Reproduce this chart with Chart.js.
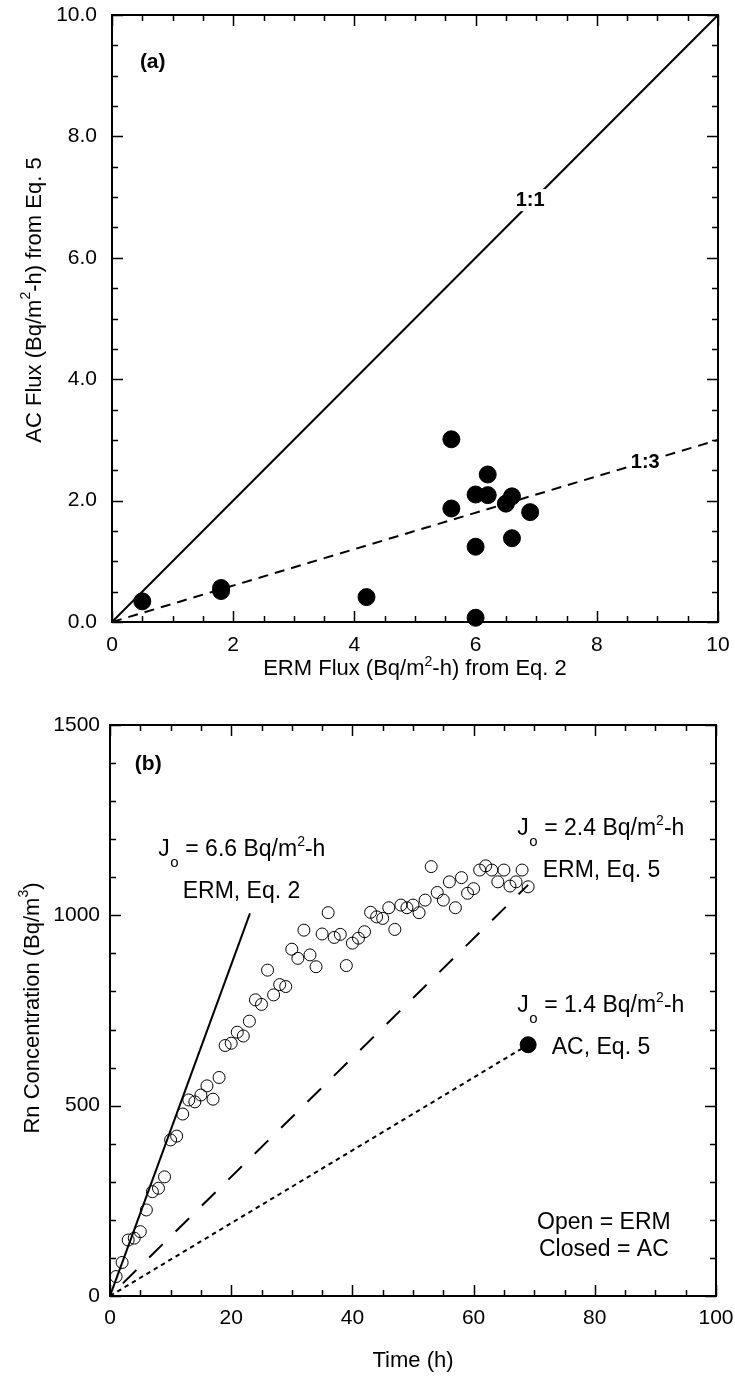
<!DOCTYPE html>
<html><head><meta charset="utf-8">
<script src="https://cdn.jsdelivr.net/npm/chart.js@4.4.0/dist/chart.umd.min.js"></script>
<style>
html,body{margin:0;padding:0;background:#fff;}
#wrap{position:relative;width:735px;height:1377px;overflow:hidden;}
canvas{position:absolute;left:0;}
</style></head><body>
<div id="wrap">
<canvas id="ca" width="735" height="690" style="top:0;width:735px;height:690px"></canvas>
<canvas id="cb" width="735" height="687" style="top:690px;width:735px;height:687px"></canvas>
</div>
<script>
const FONT = '"Liberation Sans", Arial, Helvetica, sans-serif';

// ---------- Panel (a) data ----------
const ermFlux = [0.5, 1.8, 1.8, 4.2, 5.6, 5.6, 6.0, 6.0, 6.0, 6.2, 6.2, 6.5, 6.6, 6.6, 6.9];
const acFlux  = [0.34, 0.56, 0.51, 0.41, 3.01, 1.87, 2.10, 1.24, 0.07, 2.43, 2.09, 1.95, 2.07, 1.38, 1.81];
const oneToOneX = [0, 10];
const oneToOneY = [0, 10];
const oneToThreeX = [0, 10];
const oneToThreeY = [0, 3];
const aXTicks = [0, 2, 4, 6, 8, 10];
const aYTicks = [0, 2, 4, 6, 8, 10];

// ---------- Panel (b) data ----------
const timeH = [1,2,3,4,5,6,7,8,9,10,11,12,13,14,15,16,17,18,19,20,21,22,23,24,25,26,27,28,29,30,
  31,32,33,34,35,36,37,38,39,40,41,42,43,44,45,46,47,48,49,50,51,52,53,54,55,56,57,58,59,60,
  61,62,63,64,65,66,67,68,69];
const rnConc = [51,88,147,152,169,226,274,283,313,410,420,478,515,510,528,552,517,574,658,664,
  693,683,722,778,766,856,791,818,813,911,887,961,896,865,951,1007,942,950,868,927,
  940,957,1008,996,992,1020,963,1027,1020,1027,1007,1040,1128,1060,1040,1088,1020,1099,1058,1070,
  1119,1130,1119,1088,1119,1077,1088,1119,1075];
const ermEq2LineT = [0, 23.1];
const ermEq2LineC = [0, 1005];
const ermEq5LineT = [0, 69];
const ermEq5LineC = [0, 1080];
const acEq5LineT = [0, 69];
const acEq5LineC = [0, 660];
const acPointT = [69];
const acPointC = [660];
const bXTicks = [0, 20, 40, 60, 80, 100];
const bYTicks = [0, 500, 1000, 1500];

Chart.defaults.font.family = FONT;
Chart.defaults.color = '#000';

function pts(xs, ys){ return xs.map((v,i)=>({x:v, y:ys[i]})); }

function drawRuns(ctx, parts, x, y, align){
  let w = 0;
  parts.forEach(p=>{ ctx.font=(p.bold?'bold ':'')+p.size+'px '+FONT; p.w = ctx.measureText(p.t).width; w += p.w; });
  let cx = align==='center' ? x - w/2 : (align==='right' ? x - w : x);
  ctx.textAlign = 'left';
  parts.forEach(p=>{ ctx.font=(p.bold?'bold ':'')+p.size+'px '+FONT; ctx.fillText(p.t, cx, y + (p.dy||0)); cx += p.w; });
  return w;
}

function jLabel(ctx, x, y, rest){
  ctx.textBaseline = 'alphabetic';
  drawRuns(ctx, [{t:'J', size:23}], x, y, 'left');
  drawRuns(ctx, [{t:'o', size:15}], x + 12, y + 11, 'left');
  drawRuns(ctx, [{t:rest, size:23}, {t:'2', size:14, dy:-10}, {t:'-h', size:23}], x + 27, y, 'left');
}

function boxedLabel(ctx, text, x, y, size){
  ctx.font = 'bold ' + size + 'px ' + FONT;
  const w = ctx.measureText(text).width;
  ctx.fillStyle = '#fff';
  ctx.fillRect(x - w/2 - 3, y - size*0.55, w + 6, size*1.1);
  ctx.fillStyle = '#000';
  ctx.textAlign = 'center';
  ctx.textBaseline = 'middle';
  ctx.fillText(text, x, y);
}

function makeFrame(id, minorX, minorY, texts){
  return {
    id: id,
    beforeDatasetsDraw(chart){
      const ctx = chart.ctx, a = chart.chartArea, xs = chart.scales.x, ys = chart.scales.y;
      ctx.save();
      ctx.strokeStyle = '#000';
      ctx.lineWidth = 2;
      ctx.strokeRect(a.left, a.top, a.right - a.left, a.bottom - a.top);
      ctx.lineWidth = 1.5;
      const majX = xs.ticks.map(t=>t.value), majY = ys.ticks.map(t=>t.value);
      const isMaj = (arr, v)=>arr.some(m=>Math.abs(m-v) < 1e-6);
      ctx.beginPath();
      for (let v = xs.min; v <= xs.max + 1e-9; v += minorX){
        const len = isMaj(majX, v) ? 11 : 6;
        const px = Math.round(xs.getPixelForValue(v)) + 0.5;
        ctx.moveTo(px, a.bottom); ctx.lineTo(px, a.bottom - len);
        ctx.moveTo(px, a.top); ctx.lineTo(px, a.top + len);
      }
      for (let v = ys.min; v <= ys.max + 1e-9; v += minorY){
        const len = isMaj(majY, v) ? 11 : 6;
        const py = Math.round(ys.getPixelForValue(v)) + 0.5;
        ctx.moveTo(a.left, py); ctx.lineTo(a.left + len, py);
        ctx.moveTo(a.right, py); ctx.lineTo(a.right - len, py);
      }
      ctx.stroke();
      ctx.restore();
    },
    afterDatasetsDraw(chart){
      const ctx = chart.ctx;
      ctx.save();
      ctx.fillStyle = '#000';
      texts(ctx, chart);
      ctx.restore();
    }
  };
}

function baseScale(min, max, tickArr, pad, fmt, fit, isX){
  const s = {
    type:'linear', min:min, max:max,
    grid:{display:false, drawTicks:false},
    border:{display:false},
    afterBuildTicks: sc=>{ sc.ticks = tickArr.map(v=>({value:v})); },
    ticks:{padding:pad, color:'#000', font:{family:FONT, size:21}, maxRotation:0, autoSkip:false, callback: fmt}
  };
  s.afterFit = sc=>{
    if (isX) sc.height = fit; else sc.width = fit;
    sc.paddingTop = 0; sc.paddingBottom = 0; sc.paddingLeft = 0; sc.paddingRight = 0;
  };
  return s;
}

// ---------- Chart (a) ----------
const frameA = makeFrame('frameA', 0.5, 0.5, (ctx, chart)=>{
  const xs = chart.scales.x, ys = chart.scales.y, a = chart.chartArea;
  ctx.textBaseline = 'alphabetic';
  drawRuns(ctx, [{t:'(a)', size:21, bold:true}], xs.getPixelForValue(0.46), ys.getPixelForValue(9.12), 'left');
  boxedLabel(ctx, '1:1', xs.getPixelForValue(6.9), ys.getPixelForValue(6.95), 20);
  boxedLabel(ctx, '1:3', xs.getPixelForValue(8.8), ys.getPixelForValue(2.62), 20);
  ctx.textBaseline = 'alphabetic';
  drawRuns(ctx, [{t:'ERM Flux (Bq/m', size:22}, {t:'2', size:14, dy:-9}, {t:'-h) from Eq. 2', size:22}], (a.left + a.right)/2, a.bottom + 53, 'center');
  ctx.save();
  ctx.translate(35, 300);
  ctx.rotate(-Math.PI/2);
  ctx.textBaseline = 'middle';
  drawRuns(ctx, [{t:'AC Flux (Bq/m', size:22}, {t:'2', size:14, dy:-9}, {t:'-h) from Eq. 5', size:22}], 0, 0, 'center');
  ctx.restore();
});

new Chart(document.getElementById('ca'), {
  type:'scatter',
  data:{datasets:[
    {label:'AC vs ERM flux', data: pts(ermFlux, acFlux), showLine:false, pointRadius:8.5, pointBackgroundColor:'#000', pointBorderColor:'#000', pointBorderWidth:1, clip:false},
    {label:'1:1', data: pts(oneToOneX, oneToOneY), showLine:true, borderColor:'#000', borderWidth:2, pointRadius:0, fill:false},
    {label:'1:3', data: pts(oneToThreeX, oneToThreeY), showLine:true, borderColor:'#000', borderWidth:2, borderDash:[10,7], pointRadius:0, fill:false}
  ]},
  options:{
    responsive:false, animation:false, devicePixelRatio:1,
    layout:{autoPadding:false, padding:{left:0, right:17, top:15, bottom:0}},
    plugins:{legend:{display:false}, tooltip:{enabled:false}},
    scales:{
      x: baseScale(0, 10, aXTicks, 11, v=>String(v), 68, true),
      y: baseScale(0, 10, aYTicks, 15, v=>Number(v).toFixed(1), 112, false)
    }
  },
  plugins:[frameA]
});

// ---------- Chart (b) ----------
const frameB = makeFrame('frameB', 5, 100, (ctx, chart)=>{
  const xs = chart.scales.x, ys = chart.scales.y, a = chart.chartArea;
  const X = v=>xs.getPixelForValue(v), Y = v=>ys.getPixelForValue(v);
  ctx.textBaseline = 'alphabetic';
  drawRuns(ctx, [{t:'(b)', size:21, bold:true}], X(4.1), Y(1382), 'left');
  jLabel(ctx, X(7.97), Y(1156), '= 6.6 Bq/m');
  drawRuns(ctx, [{t:'ERM, Eq. 2', size:23}], X(12.0), Y(1045), 'left');
  jLabel(ctx, X(67.2), Y(1211), '= 2.4 Bq/m');
  drawRuns(ctx, [{t:'ERM, Eq. 5', size:23}], X(71.4), Y(1100), 'left');
  jLabel(ctx, X(67.2), Y(747), '= 1.4 Bq/m');
  drawRuns(ctx, [{t:'AC, Eq. 5', size:23}], X(72.9), Y(636), 'left');
  drawRuns(ctx, [{t:'Open = ERM', size:23}], X(81.5), Y(177), 'center');
  drawRuns(ctx, [{t:'Closed = AC', size:23}], X(81.5), Y(106), 'center');
  drawRuns(ctx, [{t:'Time (h)', size:22}], (a.left + a.right)/2, a.bottom + 71, 'center');
  ctx.save();
  ctx.translate(33, 318);
  ctx.rotate(-Math.PI/2);
  ctx.textBaseline = 'middle';
  drawRuns(ctx, [{t:'Rn Concentration (Bq/m', size:22}, {t:'3', size:14, dy:-9}, {t:')', size:22}], 0, 0, 'center');
  ctx.restore();
});

new Chart(document.getElementById('cb'), {
  type:'scatter',
  data:{datasets:[
    {label:'AC, Eq. 5 point', data: pts(acPointT, acPointC), showLine:false, pointRadius:8, pointBackgroundColor:'#000', pointBorderColor:'#000', pointBorderWidth:1, clip:false},
    {label:'ERM data', data: pts(timeH, rnConc), showLine:false, pointRadius:6, pointBackgroundColor:'rgba(0,0,0,0)', pointBorderColor:'#000', pointBorderWidth:1, clip:false},
    {label:'ERM, Eq. 2', data: pts(ermEq2LineT, ermEq2LineC), showLine:true, borderColor:'#000', borderWidth:2, pointRadius:0, fill:false},
    {label:'ERM, Eq. 5', data: pts(ermEq5LineT, ermEq5LineC), showLine:true, borderColor:'#000', borderWidth:2, borderDash:[19,18], borderDashOffset:19, pointRadius:0, fill:false},
    {label:'AC, Eq. 5', data: pts(acEq5LineT, acEq5LineC), showLine:true, borderColor:'#000', borderWidth:2, borderDash:[4.5,4], pointRadius:0, fill:false}
  ]},
  options:{
    responsive:false, animation:false, devicePixelRatio:1,
    layout:{autoPadding:false, padding:{left:0, right:19, top:35, bottom:0}},
    plugins:{legend:{display:false}, tooltip:{enabled:false}},
    scales:{
      x: baseScale(0, 100, bXTicks, 10, v=>String(v), 81, true),
      y: baseScale(0, 1500, bYTicks, 10, v=>String(v), 110, false)
    }
  },
  plugins:[frameB]
});
</script>
</body></html>
